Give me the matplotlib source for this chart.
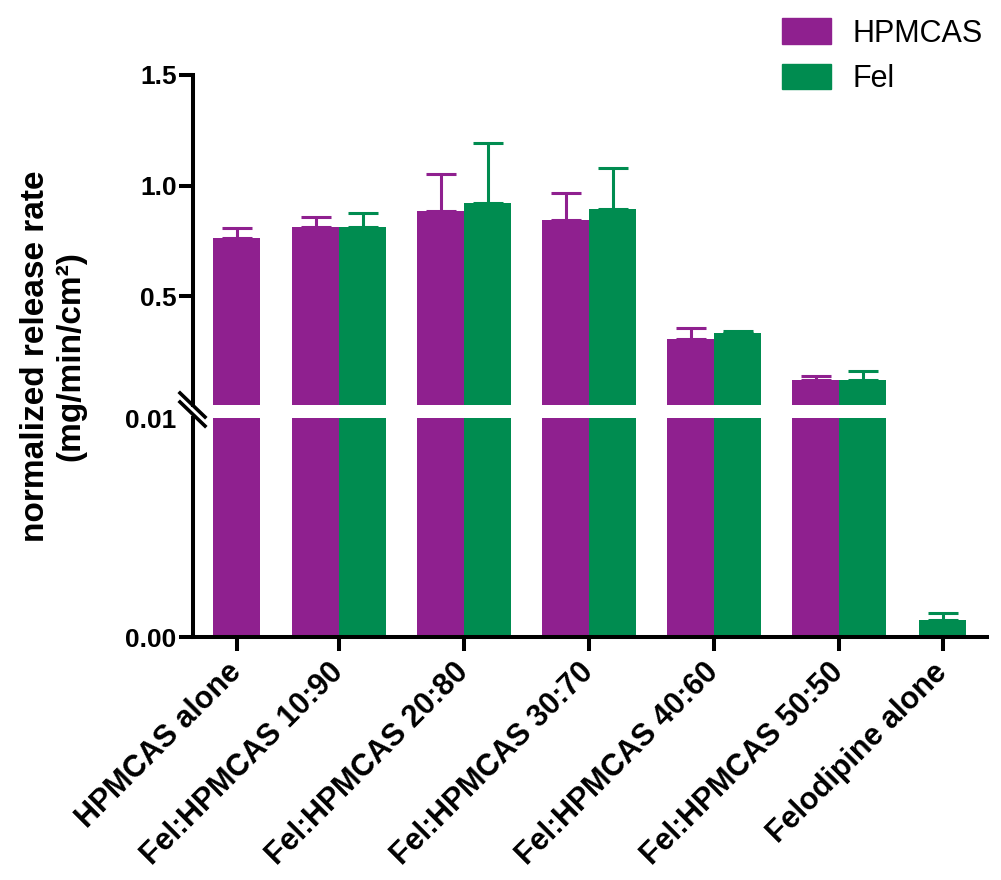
import numpy as np
import matplotlib
matplotlib.use('Agg')
import matplotlib.pyplot as plt
from matplotlib.patches import Patch
from matplotlib.lines import Line2D

plt.rcParams['font.family'] = ['Liberation Sans', 'DejaVu Sans']

# data
categories = ['HPMCAS alone', 'Fel:HPMCAS 10:90', 'Fel:HPMCAS 20:80', 'Fel:HPMCAS 30:70',
              'Fel:HPMCAS 40:60', 'Fel:HPMCAS 50:50', 'Felodipine alone']
hpmcas = [0.764, 0.814, 0.886, 0.845, 0.305, 0.123, np.nan]
hpmcas_err = [0.045, 0.045, 0.164, 0.123, 0.050, 0.018, np.nan]
fel = [np.nan, 0.814, 0.923, 0.895, 0.332, 0.123, 0.0008]
fel_err = [np.nan, 0.063, 0.267, 0.185, 0.013, 0.041, 0.0003]
series_names = ['HPMCAS', 'Fel']

# layout
xpos = np.array([0.18, 1, 2, 3, 4, 5, 5.83])
width = 0.376
purple = '#8F208F'
green = '#008C50'
lw = 2.9
top_min = 0.01

fig = plt.figure(figsize=(10.01, 8.8), dpi=100)
ax_top = fig.add_axes([0.193, 0.540, 0.793, 0.375])
ax_bot = fig.add_axes([0.193, 0.276, 0.793, 0.249])

h = np.array(hpmcas)
f = np.array(fel)
both = ~np.isnan(h) & ~np.isnan(f)
off = np.where(both, width / 2, 0.0)

for ax in (ax_top, ax_bot):
    hv, fv = h.copy(), f.copy()
    if ax is ax_top:
        # values under the break are not shown in the top part
        hv[hv < top_min] = np.nan
        fv[fv < top_min] = np.nan
    ax.bar(xpos - off, hv, width, color=purple, zorder=2,
           yerr=[np.zeros(len(h)), hpmcas_err], ecolor=purple,
           error_kw=dict(elinewidth=2.2, capsize=11, capthick=2.2))
    ax.bar(xpos + off, fv, width, color=green, zorder=2,
           yerr=[np.zeros(len(f)), fel_err], ecolor=green,
           error_kw=dict(elinewidth=2.2, capsize=11, capthick=2.2))
    ax.set_xlim(-0.168, 6.184)
    for s in ['top', 'right']:
        ax.spines[s].set_visible(False)
    ax.spines['left'].set_linewidth(lw)
    ax.tick_params(axis='y', length=10, width=lw, labelsize=19, pad=2)

ax_top.set_ylim(top_min, 1.5)
ax_top.set_yticks([0.5, 1.0, 1.5])
ax_top.set_yticklabels(['0.5', '1.0', '1.5'], fontweight='bold')
ax_top.spines['bottom'].set_visible(False)
ax_top.set_xticks([])

ax_bot.set_ylim(0, 0.01)
ax_bot.set_yticks([0.0, 0.01])
ax_bot.set_yticklabels(['0.00', '0.01'], fontweight='bold')
ax_bot.yaxis.get_major_ticks()[1].tick1line.set_visible(False)
ax_bot.spines['bottom'].set_linewidth(lw)
ax_bot.set_xticks(xpos)
ax_bot.set_xticklabels(categories, rotation=45, ha='right', va='center',
                       rotation_mode='anchor', fontsize=22, fontweight='bold')
ax_bot.tick_params(axis='x', length=10, width=lw, pad=12)

# break marks on the y axis
for dy in (0, 9):
    fig.add_artist(Line2D([180 / 1001, 205 / 1001],
                          [(880 - 393 - dy) / 880, (880 - 417 - dy) / 880],
                          color='black', lw=2.6))

fig.text(0.053, (880 - 356) / 880, 'normalized release rate\n(mg/min/cm²)',
         rotation=90, ha='center', va='center', multialignment='center',
         fontsize=24, fontweight='bold', linespacing=1.15)

handles = [Patch(color=purple), Patch(color=green)]
fig.legend(handles, series_names, loc='upper right', bbox_to_anchor=(1.0, 1.0),
           frameon=False, fontsize=22, handlelength=1.6, handleheight=0.9,
           handletextpad=0.7, labelspacing=0.5, borderaxespad=0.2)

fig.savefig('out.png', dpi=100)
